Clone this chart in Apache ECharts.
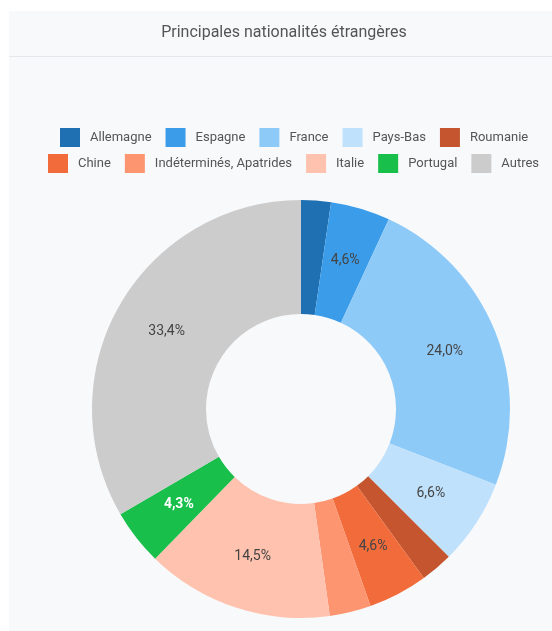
<!DOCTYPE html>
<html>
<head>
<meta charset="utf-8">
<script src="https://cdn.jsdelivr.net/npm/echarts@6/dist/echarts.min.js"></script>
<style>
  html, body { margin: 0; padding: 0; background: #ffffff; }
  #chart { width: 552px; height: 631px; }
</style>
</head>
<body>
<div id="chart"></div>
<script>
// Principales nationalités étrangères (part en %)
const categories = ['Allemagne', 'Espagne', 'France', 'Pays-Bas', 'Roumanie',
                    'Chine', 'Indéterminés, Apatrides', 'Italie', 'Portugal', 'Autres'];
const shares = [2.3, 4.6, 24.0, 6.6, 2.5, 4.6, 3.2, 14.5, 4.3, 33.4];
const colors = ['#1f70b2', '#3b9de9', '#8ecaf8', '#bfe1fb', '#c4552f',
                '#f26b3a', '#fe9571', '#fec2ae', '#19bf4b', '#cccccc'];
const legendRow1 = categories.slice(0, 5);
const legendRow2 = categories.slice(5);
const titleText = 'Principales nationalités étrangères';

const chart = echarts.init(document.getElementById('chart'), null, { renderer: 'canvas' });

const legendBase = {
  orient: 'horizontal',
  itemWidth: 20,
  itemHeight: 19,
  itemGap: 14,
  padding: 0,
  icon: 'rect',
  textStyle: { fontFamily: 'Roboto', fontSize: 13, color: '#555', padding: [0, 0, 0, 5] }
};

chart.setOption({
  animation: false,
  color: colors,
  graphic: [
    { type: 'rect', z: -10, shape: { x: 9, y: 11, width: 560, height: 640 },
      style: { fill: '#f8f9fb' }, silent: true },
    { type: 'line', z: -9, shape: { x1: 9, y1: 56.5, x2: 560, y2: 56.5 },
      style: { stroke: '#e6e7ea', lineWidth: 1 }, silent: true },
    { type: 'text', x: 284, y: 33,
      style: { text: titleText, fill: '#555', font: '16px Roboto',
               textAlign: 'center', textVerticalAlign: 'middle' } }
  ],
  legend: [
    Object.assign({}, legendBase, { data: legendRow1, left: 60, top: 128 }),
    Object.assign({}, legendBase, { data: legendRow2, left: 48, top: 154 })
  ],
  series: [{
    type: 'pie',
    center: [301, 409],
    radius: [95, 209],
    startAngle: 90,
    clockwise: true,
    avoidLabelOverlap: false,
    label: {
      show: true,
      position: 'inside',
      fontFamily: 'Roboto',
      fontSize: 14,
      color: '#444',
      formatter: p => p.value >= 4 ? p.value.toFixed(1).replace('.', ',') + '%' : ''
    },
    labelLine: { show: false },
    itemStyle: { borderWidth: 0 },
    emphasis: { disabled: true },
    data: categories.map((name, i) => ({
      name: name,
      value: shares[i],
      label: name === 'Portugal' ? { color: '#ffffff', fontWeight: 'bold' } : undefined
    }))
  }]
});
</script>
</body>
</html>
